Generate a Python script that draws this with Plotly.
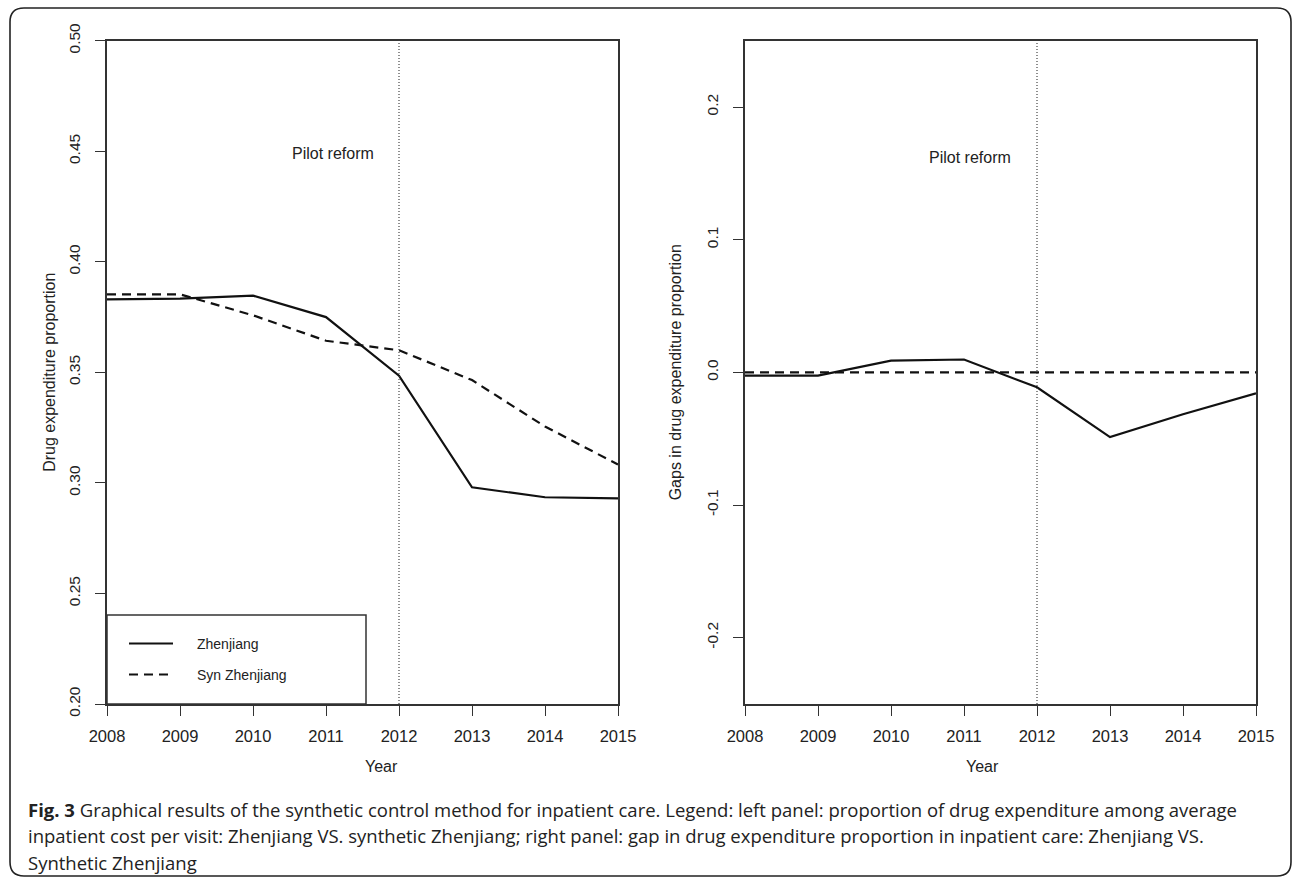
import plotly.graph_objects as go

# ---------------- data ----------------
years = [2008, 2009, 2010, 2011, 2012, 2013, 2014, 2015]
zhenjiang = [0.383, 0.3833, 0.3847, 0.375, 0.3485, 0.298, 0.2935, 0.293]
syn_zhenjiang = [0.3853, 0.3853, 0.3758, 0.3643, 0.3600, 0.3465, 0.3255, 0.3083]
gap_zhenjiang = [-0.0025, -0.0025, 0.0088, 0.0097, -0.0113, -0.0488, -0.0316, -0.0158]
gap_synthetic = [0.0, 0.0, 0.0, 0.0, 0.0, 0.0, 0.0, 0.0]

left_yticks = [0.20, 0.25, 0.30, 0.35, 0.40, 0.45, 0.50]
left_yticklabels = ["0.20", "0.25", "0.30", "0.35", "0.40", "0.45", "0.50"]
right_yticks = [-0.2, -0.1, 0.0, 0.1, 0.2]
right_yticklabels = ["-0.2", "-0.1", "0.0", "0.1", "0.2"]
xticklabels = [str(y) for y in years]

reform_year = 2012
left_title = "Drug expenditure proportion"
right_title = "Gaps in drug expenditure proportion"
x_title = "Year"
legend_names = ["Zhenjiang", "Syn Zhenjiang"]
caption_lines = [
    "<b>Fig. 3</b> Graphical results of the synthetic control method for inpatient care. Legend: left panel: proportion of drug expenditure among average",
    "inpatient cost per visit: Zhenjiang VS. synthetic Zhenjiang; right panel: gap in drug expenditure proportion in inpatient care: Zhenjiang VS.",
    "Synthetic Zhenjiang",
]

# ---------------- geometry ----------------
W, H = 1293, 879
def px(x):
    return x / W
def py(y):
    return 1 - y / H

L_X0, L_X1 = 107, 618
R_X0, R_X1 = 745, 1256
Y_TOP, Y_BOT = 40.7, 704

FONT = "Liberation Sans, Arial, Helvetica, sans-serif"
AX = "#333333"
LINE = "#111111"

fig = go.Figure()

fig.add_trace(go.Scatter(x=years, y=zhenjiang, mode="lines", name=legend_names[0],
                         line=dict(color=LINE, width=2.2), xaxis="x", yaxis="y", showlegend=False))
fig.add_trace(go.Scatter(x=years, y=syn_zhenjiang, mode="lines", name=legend_names[1],
                         line=dict(color=LINE, width=2.2, dash="9px,6px"), xaxis="x", yaxis="y", showlegend=False))
fig.add_trace(go.Scatter(x=years, y=gap_zhenjiang, mode="lines", name="gap",
                         line=dict(color=LINE, width=2.2), xaxis="x2", yaxis="y2", showlegend=False))
fig.add_trace(go.Scatter(x=years, y=gap_synthetic, mode="lines", name="zero",
                         line=dict(color=LINE, width=2.2, dash="9px,6px"), xaxis="x2", yaxis="y2", showlegend=False))

axis_common = dict(showline=True, linecolor=AX, linewidth=1.5, mirror=True,
                   ticks="outside", ticklen=10, tickwidth=1.3, tickcolor=AX,
                   showgrid=False, zeroline=False, automargin=False)
xfont = dict(family=FONT, size=16.5, color="#222")
yfont = dict(family=FONT, size=15.5, color="#222")

fig.update_layout(
    width=W, height=H,
    margin=dict(l=0, r=0, t=0, b=0),
    paper_bgcolor="white", plot_bgcolor="white",
    showlegend=False,
    xaxis=dict(domain=[px(L_X0), px(L_X1)], range=[2008, 2015], tickvals=years, ticktext=xticklabels,
               anchor="y", tickfont=xfont, ticklabelstandoff=6, **axis_common),
    yaxis=dict(domain=[py(Y_BOT), py(Y_TOP)], range=[0.20, 0.50], tickvals=left_yticks,
               ticktext=left_yticklabels, tickangle=-90, anchor="x", tickfont=yfont,
               ticklabelstandoff=9, **axis_common),
    xaxis2=dict(domain=[px(R_X0), px(R_X1)], range=[2008, 2015], tickvals=years, ticktext=xticklabels,
                anchor="y2", tickfont=xfont, ticklabelstandoff=6, **axis_common),
    yaxis2=dict(domain=[py(Y_BOT), py(Y_TOP)], range=[-0.25, 0.25], tickvals=right_yticks,
                ticktext=right_yticklabels, tickangle=-90, anchor="x2", tickfont=yfont,
                ticklabelstandoff=9, **axis_common),
)

shapes = []
# reform lines
for xr, yr in (("x", "y domain"), ("x2", "y2 domain")):
    shapes.append(dict(type="line", xref=xr, yref=yr, x0=reform_year, x1=reform_year, y0=0, y1=1,
                       line=dict(color="#444", width=1.2, dash="1px,2px")))

# legend box (left panel, bottom-left)
def dx(p):
    return (p - L_X0) / (L_X1 - L_X0)
def dy(p):
    return (Y_BOT - p) / (Y_BOT - Y_TOP)
shapes.append(dict(type="rect", xref="x domain", yref="y domain", x0=0, x1=dx(366), y0=0, y1=dy(615),
                   line=dict(color=AX, width=1.5), fillcolor="rgba(0,0,0,0)"))
shapes.append(dict(type="line", xref="x domain", yref="y domain", x0=dx(129), x1=dx(173), y0=dy(643.5), y1=dy(643.5),
                   line=dict(color=LINE, width=2.2)))
shapes.append(dict(type="line", xref="x domain", yref="y domain", x0=dx(129), x1=dx(173), y0=dy(674.5), y1=dy(674.5),
                   line=dict(color=LINE, width=2.2, dash="9px,6px")))

# outer rounded frame
x0, x1, y0, y1, r = 10, 1291, 8, 876, 14
path = (f"M {px(x0)},{py(y0 + r)} "
        f"Q {px(x0)},{py(y0)} {px(x0 + r)},{py(y0)} "
        f"L {px(x1 - r)},{py(y0)} "
        f"Q {px(x1)},{py(y0)} {px(x1)},{py(y0 + r)} "
        f"L {px(x1)},{py(y1 - r)} "
        f"Q {px(x1)},{py(y1)} {px(x1 - r)},{py(y1)} "
        f"L {px(x0 + r)},{py(y1)} "
        f"Q {px(x0)},{py(y1)} {px(x0)},{py(y1 - r)} Z")
shapes.append(dict(type="path", xref="paper", yref="paper", path=path,
                   line=dict(color="#222", width=1.6)))
fig.update_layout(shapes=shapes)

ann = []
tf = dict(family=FONT, size=16, color="#222")
# legend texts
for name, yy in zip(legend_names, (643.5, 674.5)):
    ann.append(dict(xref="x domain", yref="y domain", x=dx(195), y=dy(yy), text=name,
                    showarrow=False, xanchor="left", yanchor="middle",
                    font=dict(family=FONT, size=14, color="#222")))
# pilot reform labels
ann.append(dict(xref="x", yref="y", x=2011.1, y=0.449, text="Pilot reform", showarrow=False,
                font=dict(family=FONT, size=16, color="#222")))
ann.append(dict(xref="x2", yref="y2", x=2011.08, y=0.162, text="Pilot reform", showarrow=False,
                font=dict(family=FONT, size=16, color="#222")))
# axis titles
ann.append(dict(xref="paper", yref="paper", x=px((L_X0 + L_X1) / 2), y=py(777), text=x_title,
                showarrow=False, font=tf))
ann.append(dict(xref="paper", yref="paper", x=px((R_X0 + R_X1) / 2), y=py(777), text=x_title,
                showarrow=False, font=tf))
ann.append(dict(xref="paper", yref="paper", x=px(39), y=py((Y_TOP + Y_BOT) / 2), text=left_title,
                textangle=-90, showarrow=False, font=tf))
ann.append(dict(xref="paper", yref="paper", x=px(675), y=py((Y_TOP + Y_BOT) / 2), text=right_title,
                textangle=-90, showarrow=False, font=tf))
# caption
for i, line in enumerate(caption_lines):
    ann.append(dict(xref="paper", yref="paper", x=px(26), y=py(809 + 26.5 * i), text=line,
                    showarrow=False, xanchor="left", yanchor="middle",
                    font=dict(family="Open Sans, Noto Sans, sans-serif", size=18.5, color="#222")))
fig.update_layout(annotations=ann)

fig.write_html("out.html")
